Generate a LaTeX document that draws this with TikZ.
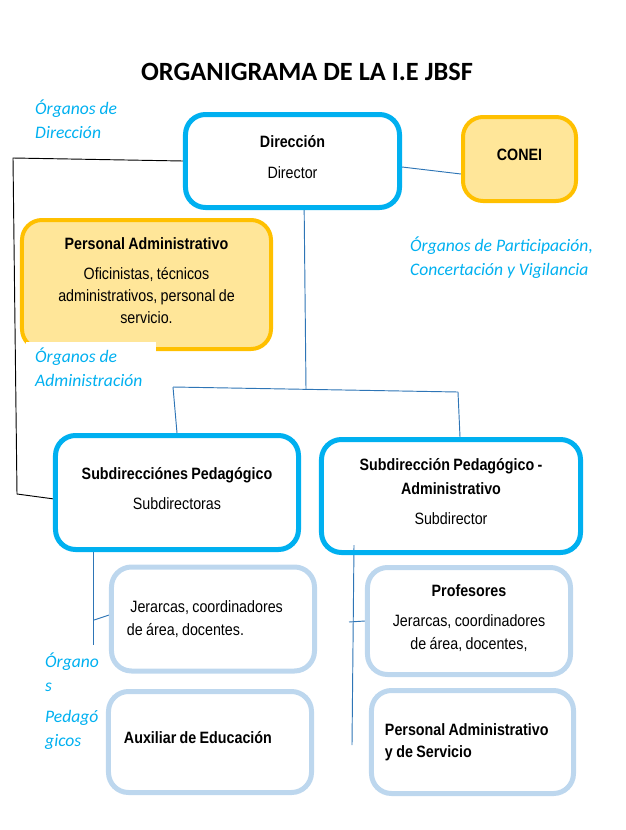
\documentclass[tikz,border=0pt]{standalone}
\usepackage{fontspec}
\setmainfont{Liberation Sans}[FakeStretch=0.87, WordSpace=0.85]
\newfontfamily\calfont{Carlito}
\usetikzlibrary{backgrounds}
\definecolor{ink}{HTML}{000000}
\definecolor{frame}{HTML}{00B0F0}
\definecolor{paleframe}{HTML}{BDD7EE}
\definecolor{gold}{HTML}{FFC000}
\definecolor{cream}{HTML}{FFE699}
\definecolor{wire}{HTML}{2E75B6}

\begin{document}
\begin{tikzpicture}[
  x=0.03cm, y=-0.03cm,
  font=\fontsize{14}{19}\selectfont, ink,
  lift/.style={text depth=7pt},
  headbox/.style={draw=frame, line width=0.15cm, rounded corners=0.6cm,
                  align=flush center, inner sep=2pt, lift},
  staffbox/.style={draw=gold, fill=cream, line width=0.12cm, rounded corners=0.6cm,
                   align=flush center, inner sep=2pt, lift},
  unitbox/.style={draw=paleframe, line width=0.15cm, rounded corners=0.6cm,
                  align=flush center, inner sep=2pt},
  link/.style={draw=wire, line width=0.8pt},
  tieline/.style={draw=ink, line width=0.8pt},
  orglabel/.style={font=\calfont\itshape\fontsize{15}{20.4}\selectfont,
                   text=frame, align=flush left, inner sep=0pt, anchor=west},
]
\useasboundingbox (0,0) rectangle (626,830);

% ---- title ------------------------------------------------------------------
\node[font=\calfont\bfseries\fontsize{22.5}{27}\selectfont] (title) at (307,72)
  {ORGANIGRAMA DE LA I.E JBSF};

% ---- direction and council ----------------------------------------------------
\node[headbox, minimum width=6.42cm, minimum height=2.79cm] (dir) at (292.5,161)
  {\textbf{Dirección}\\[7pt]Director};
\node[staffbox, minimum width=3.39cm, minimum height=2.52cm] (conei) at (519.5,159)
  {\textbf{CONEI}};

\node[orglabel] (lbdir) at (35,119) {Órganos de\\Dirección};
\node[orglabel] (lbpart) at (410,258) {Órganos de Participación,\\Concertación y Vigilancia};

% ---- administration -----------------------------------------------------------
\node[staffbox, minimum width=7.47cm, minimum height=3.87cm] (padm) at (146.5,284.5)
  {\textbf{Personal Administrativo}\\[6.5pt]Oficinistas, técnicos\\administrativos, personal de\\servicio.};
\node[orglabel, anchor=north west, fill=white, inner xsep=0.27cm, inner ysep=4.5pt,
      text width=3.36cm] (lbadm) at (26,342) {Órganos de\\Administración};

% ---- sub-directions -------------------------------------------------------------
\node[headbox, minimum width=7.29cm, minimum height=3.42cm] (subl) at (177,492.5)
  {\textbf{Subdirecciónes Pedagógico}\\[6.5pt]Subdirectoras};
\node[headbox, minimum width=7.77cm, minimum height=3.39cm] (subr) at (451,496)
  {\textbf{Subdirección Pedagógico -}\\[1.5pt]\textbf{Administrativo}\\[6.5pt]Subdirector};

% ---- pedagogical bodies -----------------------------------------------------------
\node[unitbox, minimum width=6.09cm, minimum height=3.12cm, align=flush left,
      text width=5.16cm] (jer) at (213,619)
  {\ Jerarcas, coordinadores\\de área, docentes.};
\node[unitbox, lift, minimum width=6.09cm, minimum height=3.03cm, align=flush left,
      text width=5.16cm] (aux) at (210,742)
  {\textbf{Auxiliar de Educación}};
\node[unitbox, lift, minimum width=6.09cm, minimum height=3.21cm] (prof) at (469,621)
  {\textbf{Profesores}\\[7pt]Jerarcas, coordinadores\\de área, docentes,};
\node[unitbox, minimum width=6.06cm, minimum height=3.09cm, align=flush left,
      text width=5.25cm] (pads) at (472.5,742)
  {\textbf{Personal Administrativo}\\\textbf{y de Servicio}};

\node[orglabel] (lbped) at (45,701) {Órgano\\s\\[6pt]Pedagó\\gicos};

% ---- connectors ---------------------------------------------------------------------
\coordinate (elbow-top) at (13,158);
\coordinate (elbow-bot) at (17,494);
\coordinate (trunk) at (306,389);
\coordinate (bar-l) at (173,387);
\coordinate (bar-r) at (458,392);
\coordinate (ped-l-bot) at (93,645);
\coordinate (ped-l-tap) at (94,620);
\coordinate (ped-r-top) at (354,545);
\coordinate (ped-r-bot) at (352,745);
\coordinate (ped-r-tap) at (349,622);

\begin{scope}[on background layer]
  \draw[tieline] (dir.west) -- (elbow-top) -- (elbow-bot) -- ([yshift=-0.19cm]subl.west);
  \draw[link] ([yshift=-0.18cm]dir.east) -- ([yshift=-0.45cm]conei.west);
  \draw[link] ([xshift=0.35cm]dir.south) -- (trunk);
  \draw[link] (bar-l) -- (bar-r);
  \draw[link] (bar-l) -- (subl.north);
  \draw[link] (bar-r) -- ([xshift=0.27cm]subr.north);
  \draw[link] (subl.south -| ped-l-bot) -- (ped-l-bot);
  \draw[link] (ped-l-tap) -- ([yshift=0.12cm]jer.west);
  \draw[link] (ped-r-top) -- (ped-r-bot);
  \draw[link] (ped-r-tap) -- (prof.west);
\end{scope}

\end{tikzpicture}
\end{document}
